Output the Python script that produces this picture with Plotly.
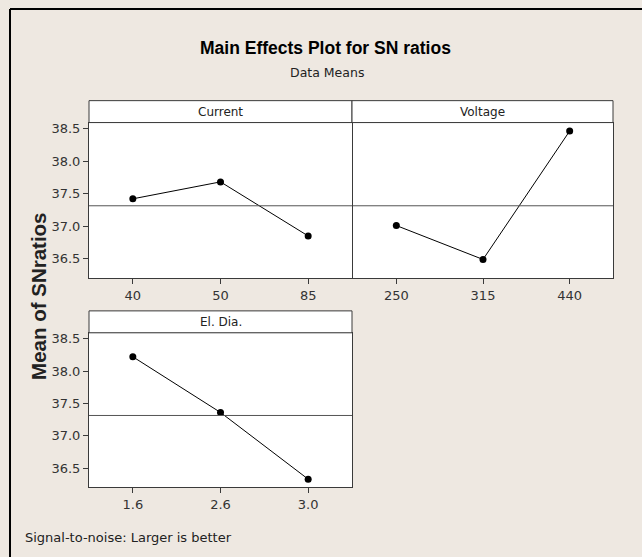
import numpy as np
import plotly.graph_objects as go

# ---- data ----
current_levels = ["40", "50", "85"]
current_sn = [37.42, 37.68, 36.85]
voltage_levels = ["250", "315", "440"]
voltage_sn = [37.01, 36.49, 38.46]
eldia_levels = ["1.6", "2.6", "3.0"]
eldia_sn = [38.22, 37.36, 36.33]
panel_titles = ["Current", "Voltage", "El. Dia."]
y_ticks = [36.5, 37.0, 37.5, 38.0, 38.5]

W, H = 642, 557
BG = "#EEE8E1"
EDGE = "#3a3a3a"
FONT = "DejaVu Sans, sans-serif"
BOLDFONT = "Liberation Sans, Arial, sans-serif"

def fx(px):
    return px / W

def fy(py):
    return 1 - py / H

# panel boxes in pixels: (x0, x1, plot_top, plot_bottom, strip_top, strip_x0)
panels = [
    (89, 352, 121, 277, 99, 89),
    (353, 613, 121, 277, 99, 352),
    (89, 352, 332, 487, 310, 89),
]
levels = [current_levels, voltage_levels, eldia_levels]
values = [current_sn, voltage_sn, eldia_sn]
grand_mean = float(np.mean(current_sn + voltage_sn + eldia_sn))

fig = go.Figure()
shapes = []
annotations = []
yrange = [36.205, 38.59]

for i, ((x0, x1, pt, pb, st, sx0), lv, vals, ttl) in enumerate(zip(panels, levels, values, panel_titles)):
    n = i + 1
    xa = "x" if n == 1 else f"x{n}"
    ya = "y" if n == 1 else f"y{n}"
    fig.add_trace(go.Scatter(
        x=list(range(len(lv))), y=vals, xaxis=xa, yaxis=ya,
        mode="lines+markers",
        line=dict(color="black", width=1),
        marker=dict(color="black", size=7),
        showlegend=False, hoverinfo="x+y",
    ))
    xkey = "xaxis" if n == 1 else f"xaxis{n}"
    ykey = "yaxis" if n == 1 else f"yaxis{n}"
    fig.layout[xkey] = dict(
        domain=[fx(x0), fx(x1)], anchor=ya, range=[-0.5, len(lv) - 0.5],
        tickmode="array", tickvals=list(range(len(lv))), ticktext=lv,
        ticks="outside", ticklen=5, tickcolor=EDGE, tickwidth=1,
        showline=True, mirror=True, linecolor=EDGE, linewidth=1,
        showgrid=False, zeroline=False, fixedrange=True,
        tickfont=dict(family=FONT, size=13, color="#333333"),
    )
    fig.layout[ykey] = dict(
        domain=[fy(pb), fy(pt)], anchor=xa, range=yrange,
        tickmode="array", tickvals=y_ticks,
        ticktext=[f"{v:.1f}" for v in y_ticks],
        showticklabels=(n != 2), ticks=("outside" if n != 2 else ""),
        ticklen=5, tickcolor=EDGE, tickwidth=1,
        showline=True, mirror=True, linecolor=EDGE, linewidth=1,
        showgrid=False, zeroline=False, fixedrange=True,
        tickfont=dict(family=FONT, size=13, color="#333333"),
    )
    # grand mean reference line
    shapes.append(dict(type="line", xref=f"{xa} domain", yref=ya,
                       x0=0, x1=1, y0=grand_mean, y1=grand_mean,
                       line=dict(color="#555555", width=1)))
    # strip
    shapes.append(dict(type="rect", xref="paper", yref="paper",
                       x0=fx(sx0), x1=fx(x1), y0=fy(pt), y1=fy(st),
                       fillcolor="white", line=dict(color=EDGE, width=1)))
    annotations.append(dict(text=ttl, xref="paper", yref="paper",
                            x=fx((sx0 + x1) / 2), y=fy((pt + st) / 2),
                            xanchor="center", yanchor="middle", showarrow=False,
                            font=dict(family=FONT, size=12, color="#222222")))

# outer black border (left and top)
shapes.append(dict(type="line", xref="paper", yref="paper",
                   x0=fx(10), x1=fx(10), y0=0, y1=fy(7),
                   line=dict(color="black", width=2)))
shapes.append(dict(type="line", xref="paper", yref="paper",
                   x0=fx(10), x1=1, y0=fy(7), y1=fy(7),
                   line=dict(color="black", width=2)))

annotations += [
    dict(text="<b>Main Effects Plot for SN ratios</b>", xref="paper", yref="paper",
         x=fx(326), y=fy(46), xanchor="center", yanchor="middle", showarrow=False,
         font=dict(family=BOLDFONT, size=17.5, color="black")),
    dict(text="Data Means", xref="paper", yref="paper",
         x=fx(327), y=fy(71), xanchor="center", yanchor="middle", showarrow=False,
         font=dict(family=FONT, size=12.5, color="#222222")),
    dict(text="<b>Mean of SNratios</b>", xref="paper", yref="paper",
         x=fx(39), y=fy(296), xanchor="center", yanchor="middle", showarrow=False,
         textangle=-90, font=dict(family=BOLDFONT, size=20.5, color="#222222")),
    dict(text="Signal-to-noise: Larger is better", xref="paper", yref="paper",
         x=fx(23), y=fy(537), xanchor="left", yanchor="middle", showarrow=False,
         font=dict(family=FONT, size=13, color="#222222")),
]

fig.update_layout(
    width=W, height=H, margin=dict(l=0, r=0, t=0, b=0),
    paper_bgcolor=BG, plot_bgcolor="white",
    shapes=shapes, annotations=annotations, showlegend=False,
)

fig.write_html(
    "out.html",
    config={"displayModeBar": False},
    post_script="document.body.style.margin='0';document.body.style.overflow='hidden';"
                "document.body.style.background='" + BG + "';",
)
